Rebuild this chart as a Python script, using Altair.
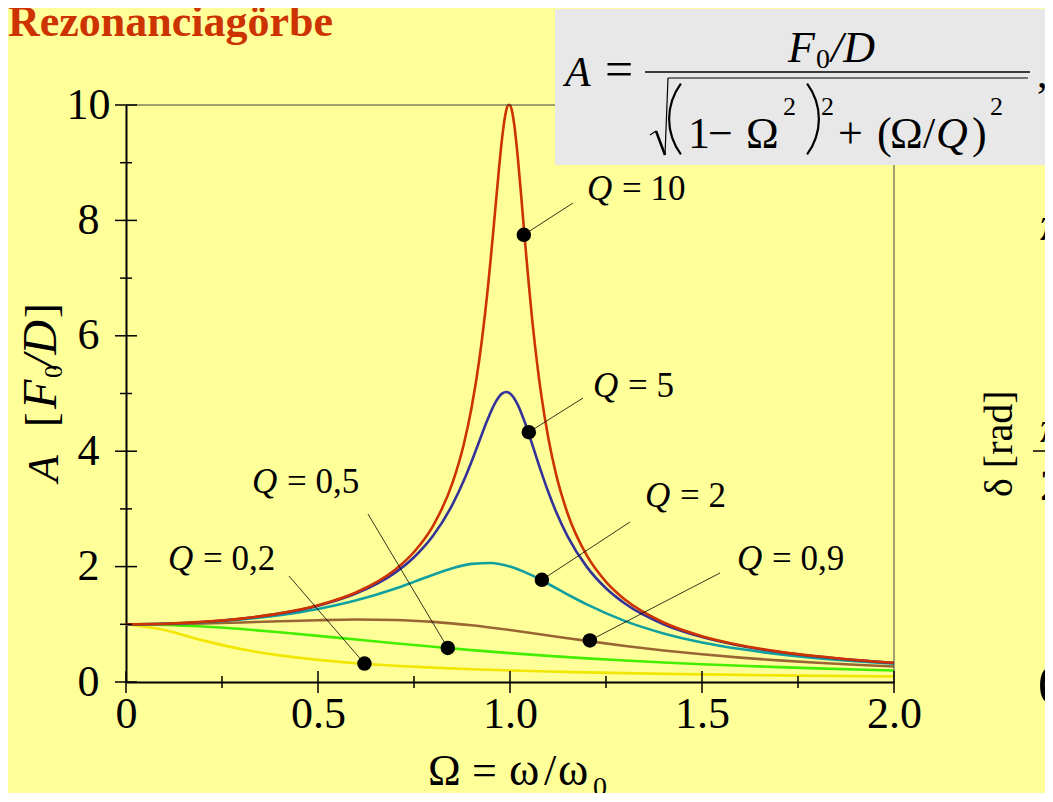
import math
import altair as alt
import pandas as pd

# ---------------- data ----------------
series_names = ["Q = 0,2", "Q = 0,5", "Q = 0,9", "Q = 2", "Q = 5", "Q = 10"]
series_colors = ["#F2E600", "#44EE00", "#996633", "#11A0A0", "#333399", "#CC3300"]

omega_low = [0.0, 0.1, 0.2, 0.3, 0.4, 0.5, 0.6, 0.7, 0.8, 0.9, 1.0,
             1.1, 1.2, 1.3, 1.4, 1.5, 1.6, 1.7, 1.8, 1.9, 2.0]
amp_q02 = [1.0, 0.9016, 0.7214, 0.5700, 0.4610, 0.3831, 0.3260, 0.2827, 0.2490, 0.2220, 0.2000,
           0.1817, 0.1662, 0.1530, 0.1415, 0.1315, 0.1227, 0.1148, 0.1078, 0.1015, 0.0958]
amp_q05 = [1.0, 0.9901, 0.9615, 0.9174, 0.8621, 0.8000, 0.7353, 0.6711, 0.6098, 0.5525, 0.5000,
           0.4525, 0.4098, 0.3717, 0.3378, 0.3077, 0.2809, 0.2571, 0.2358, 0.2169, 0.2000]
amp_q09 = [1.0, 1.0038, 1.0148, 1.0319, 1.0523, 1.0714, 1.0821, 1.0752, 1.0427, 0.9824, 0.9000,
           0.8064, 0.7122, 0.6247, 0.5471, 0.4800, 0.4228, 0.3742, 0.3330, 0.2979, 0.2679]

omega_q2 = [0.0, 0.1, 0.2, 0.3, 0.4, 0.5, 0.6, 0.7, 0.75, 0.8, 0.85, 0.9, 0.95, 1.0, 1.05,
            1.1, 1.15, 1.2, 1.3, 1.4, 1.5, 1.6, 1.7, 1.8, 1.9, 2.0]
amp_q2 = [1.0, 1.0088, 1.0361, 1.0843, 1.1581, 1.2649, 1.4148, 1.6167, 1.7354, 1.8582, 1.9702,
          2.0472, 2.0623, 2.0000, 1.8695, 1.6986, 1.5168, 1.3440, 1.0549, 0.8417, 0.6860,
          0.5704, 0.4826, 0.4142, 0.3600, 0.3162]

omega_q5 = [0.0, 0.1, 0.2, 0.3, 0.4, 0.5, 0.6, 0.7, 0.75, 0.8, 0.85, 0.88, 0.9, 0.92, 0.94,
            0.96, 0.98, 0.99, 1.0, 1.02, 1.04, 1.06, 1.08, 1.1, 1.12, 1.15, 1.2, 1.25, 1.3,
            1.4, 1.5, 1.6, 1.7, 1.8, 1.9, 2.0]
amp_q5 = [1.0, 1.0099, 1.0408, 1.0965, 1.1851, 1.3216, 1.5357, 1.8908, 2.1622, 2.5384, 3.0728,
          3.4949, 3.8208, 4.1721, 4.5225, 4.8218, 5.0010, 5.0252, 5.0000, 4.8086, 4.4756,
          4.0750, 3.6675, 3.2880, 2.9502, 2.5245, 1.9952, 1.6246, 1.3562, 1.0000, 0.7779,
          0.6279, 0.5207, 0.4408, 0.3791, 0.3304]

omega_q10 = [0.0, 0.1, 0.2, 0.3, 0.4, 0.5, 0.6, 0.7, 0.75, 0.8, 0.85, 0.88, 0.9, 0.92, 0.94,
             0.96, 0.97, 0.98, 0.99, 0.995, 1.0, 1.005, 1.01, 1.02, 1.03, 1.04, 1.06, 1.08,
             1.1, 1.12, 1.15, 1.2, 1.25, 1.3, 1.4, 1.5, 1.6, 1.7, 1.8, 1.9, 2.0]
amp_q10 = [1.0, 1.0101, 1.0414, 1.0983, 1.1891, 1.3304, 1.5557, 1.9426, 2.2529, 2.7116, 3.4456,
           4.1296, 4.7565, 5.5851, 6.6837, 8.0680, 8.8039, 9.4608, 9.9030, 10.0001, 10.0000,
           9.9011, 9.7105, 9.1149, 8.3572, 7.5648, 6.1415, 5.0409, 4.2182, 3.5976, 2.9206,
           2.1926, 1.7354, 1.4242, 1.0308, 0.7943, 0.6377, 0.5270, 0.4450, 0.3821, 0.3326]

# marker dots on each curve (same order as series_names)
dot_omega = [0.621, 0.838, 1.208, 1.083, 1.049, 1.036]
dot_amp = [0.32, 0.59, 0.72, 1.77, 4.33, 7.75]
label_values = ["= 0,2", "= 0,5", "= 0,9", "= 2", "= 5", "= 10"]

x_major = [0.0, 0.5, 1.0, 1.5, 2.0]
x_minor = [0.25, 0.75, 1.25, 1.75]
y_major = [0, 2, 4, 6, 8, 10]
y_minor = [1, 3, 5, 7, 9]

# ---------------- build tables ----------------
frames = []
for name, om, am in [(series_names[0], omega_low, amp_q02),
                     (series_names[1], omega_low, amp_q05),
                     (series_names[2], omega_low, amp_q09),
                     (series_names[3], omega_q2, amp_q2),
                     (series_names[4], omega_q5, amp_q5),
                     (series_names[5], omega_q10, amp_q10)]:
    frames.append(pd.DataFrame({"omega": om, "A": am, "Q": name}))
curves_df = pd.concat(frames, ignore_index=True)

W, H = 768, 577
SERIF = "Liberation Serif"
BG = "#FFFF99"

xs = alt.Scale(domain=[0, 2], nice=False, zero=False)
ys = alt.Scale(domain=[0, 10], nice=False)

x_axis = alt.Axis(values=x_major, labelExpr="datum.value == 0 ? '0' : format(datum.value, '.1f')",
                  labelFont=SERIF, labelFontSize=44, labelColor="black", labelPadding=10,
                  ticks=False, tickSize=0, domainColor="black", domainWidth=2, grid=False,
                  title=None, labelFlush=False, labelOverlap=False)
y_axis = alt.Axis(values=y_major, format="d", labelFont=SERIF, labelFontSize=44,
                  labelColor="black", labelAlign="center", labelBaseline="middle",
                  labelPadding=38, ticks=False, tickSize=0, domainColor="black",
                  domainWidth=2, grid=False, title=None, labelOverlap=False)

X = lambda f: alt.X(f, scale=xs, axis=x_axis)
Y = lambda f: alt.Y(f, scale=ys, axis=y_axis)

one = pd.DataFrame({"k": [0]})


def txt(s, x, y, size, italic=False, bold=False, color="black", angle=None,
        align="left", baseline="alphabetic"):
    kw = dict(text=s, fontSize=size, font=SERIF, color=color, align=align,
              baseline=baseline)
    if italic:
        kw["fontStyle"] = "italic"
    if bold:
        kw["fontWeight"] = "bold"
    if angle is not None:
        kw["angle"] = angle
    return alt.Chart(one).mark_text(**kw).encode(x=alt.value(x), y=alt.value(y))


def seg(x1, y1, x2, y2, w=1.0, color="black"):
    return alt.Chart(one).mark_rule(color=color, strokeWidth=w).encode(
        x=alt.value(x1), y=alt.value(y1), x2=alt.value(x2), y2=alt.value(y2))


def paren_arc(cx, cy, r, t1, t2, w=2.0):
    return alt.Chart(one).mark_arc(color="black").encode(
        x=alt.value(cx), y=alt.value(cy),
        radius=alt.value(r), radius2=alt.value(r - w),
        theta=alt.value(t1), theta2=alt.value(t2))


layers = []

curves = alt.Chart(curves_df).mark_line(strokeWidth=2.6, interpolate="monotone").encode(
    x=X("omega:Q"),
    y=Y("A:Q"),
    color=alt.Color("Q:N", scale=alt.Scale(domain=series_names, range=series_colors), legend=None),
    order=alt.Order("omega:Q"),
)
layers.append(curves)

# frame (top / right, thin)
layers.append(seg(0, 0, W, 0, 1, "#444444"))
layers.append(seg(W, 0, W, H, 1, "#444444"))


# ticks crossing the axes
def xticks(vals, half):
    return alt.Chart(pd.DataFrame({"omega": vals})).mark_rule(color="black", strokeWidth=1.5).encode(
        x=X("omega:Q"), y=alt.value(H - half), y2=alt.value(H + half))


def yticks(vals, half):
    return alt.Chart(pd.DataFrame({"A": vals})).mark_rule(color="black", strokeWidth=1.5).encode(
        y=Y("A:Q"), x=alt.value(-half), x2=alt.value(half))


layers += [xticks(x_major, 11), xticks(x_minor, 6), yticks(y_major, 11), yticks(y_minor, 6)]

# leader lines, dots, labels
leader_end = [(163, 471), (242, 409), (594, 468), (504, 417), (457, 293), (447, 98)]
label_pos = [(42, 465), (126, 388), (611, 465), (519, 402), (467, 292), (461, 95)]
for i in range(len(series_names)):
    d = pd.DataFrame({"omega": [dot_omega[i]], "A": [dot_amp[i]]})
    ex, ey = leader_end[i]
    layers.append(alt.Chart(d).mark_rule(color="black", strokeWidth=0.8).encode(
        x=X("omega:Q"), y=Y("A:Q"), x2=alt.value(ex), y2=alt.value(ey)))
    lx, ly = label_pos[i]
    layers.append(txt("Q", lx, ly, 35, italic=True))
    layers.append(txt(label_values[i], lx + 35, ly, 35))
dots_df = pd.DataFrame({"omega": dot_omega, "A": dot_amp})
layers.append(alt.Chart(dots_df).mark_circle(size=210, color="black", opacity=1).encode(
    x=X("omega:Q"), y=Y("A:Q")))

# x axis title  (Ω = ω/ω0)
layers.append(txt("Ω", 302, 680, 44))
layers.append(txt("=", 346, 680, 44))
layers.append(txt("ω", 383, 680, 46))
layers.append(txt("/", 418, 680, 44))
layers.append(txt("ω", 432, 680, 46))
layers.append(txt("0", 467, 691, 28))

# y axis title  (A [F0/D])
layers.append(txt("A", -68, 377, 44, italic=True, angle=270))
layers.append(txt("[", -70, 322, 44, angle=270))
layers.append(txt("F", -70, 304, 48, italic=True, angle=270))
layers.append(txt("0", -64, 273, 26, angle=270))
layers.append(txt("/D", -70, 263, 48, italic=True, angle=270))
layers.append(txt("]", -70, 213, 44, angle=270))

# title
layers.append(txt("Rezonanciagörbe", -118, -69, 44, bold=True, color="#CC3300"))

# formula box
layers.append(alt.Chart(one).mark_rect(color="#E8E8E8").encode(
    x=alt.value(429), x2=alt.value(930), y=alt.value(-96), y2=alt.value(60)))
layers.append(txt("A", 439, -19, 42, italic=True))
layers.append(txt("=", 493, -19, 50, align="center"))
layers.append(txt("F", 662, -43, 44, italic=True))
layers.append(txt("0", 690, -37, 28))
layers.append(txt("/D", 705, -43, 44, italic=True))
layers.append(seg(519, -33, 904, -33, 1.5))
layers.append(seg(524, 30, 530, 26, 1.2))
layers.append(seg(530, 26, 539, 50, 2.5))
layers.append(seg(539, 50, 542, -27, 1.2))
layers.append(seg(542, -27, 902, -27, 1.2))
half = math.asin(36 / 60)
layers.append(paren_arc(602, 14, 60, 1.5 * math.pi - half, 1.5 * math.pi + half, 2.2))
layers.append(txt("1", 562, 43, 44))
layers.append(txt("\u2212", 582, 43, 44))
layers.append(txt("Ω", 620, 43, 44))
layers.append(txt("2", 657, 10, 26))
layers.append(paren_arc(634, 14, 60, 0.5 * math.pi - half, 0.5 * math.pi + half, 2.2))
layers.append(txt("2", 695, 10, 26))
layers.append(txt("+", 712, 43, 44))
layers.append(txt("(", 751, 43, 44))
layers.append(txt("Ω", 764, 43, 44))
layers.append(txt("/", 797, 43, 44))
layers.append(txt("Q", 810, 43, 44, italic=True))
layers.append(txt(")", 846, 43, 44))
layers.append(txt("2", 864, 10, 26))
layers.append(txt(",", 911, -18, 42))

# right-hand (cut off) neighbour panel
layers.append(txt("π", 914, 135, 48, italic=True))
layers.append(txt("δ  [rad]", 886, 392, 40, angle=270))
layers.append(txt("π", 914, 337, 44, italic=True))
layers.append(seg(907, 346, 934, 346, 1.5))
layers.append(txt("2", 914, 395, 44))
layers.append(txt("0", 912, 598, 54))

chart = alt.layer(*layers).properties(
    width=W, height=H, background=BG,
    padding={"left": 118, "top": 97, "right": 151, "bottom": 111},
    autosize=alt.AutoSizeParams(type="none"),
).configure_view(stroke=None)

chart.save("out.html", embed_options={"renderer": "svg", "actions": False})
